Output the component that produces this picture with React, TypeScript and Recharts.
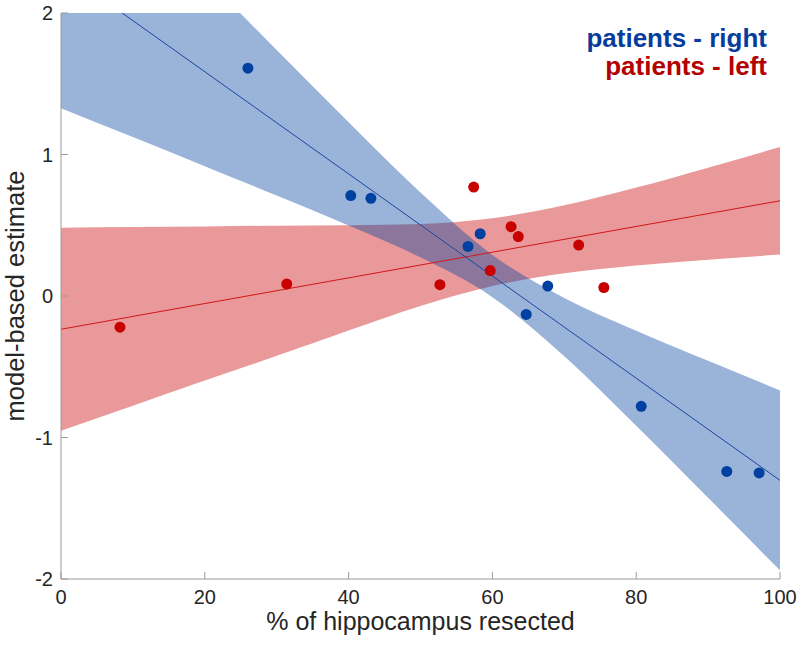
import { ComposedChart, Area, Line, Scatter, XAxis, YAxis } from "recharts";

// confidence bands, read at every 10 % step
const bandX = [0, 10, 20, 30, 40, 50, 60, 70, 80, 90, 100];
const rightLower = [1.327, 1.123, 0.917, 0.71, 0.498, 0.273, -0.008, -0.426, -0.917, -1.426, -1.939];
const rightUpper = [3.287, 2.769, 2.253, 1.738, 1.228, 0.731, 0.29, -0.014, -0.245, -0.458, -0.667];
const leftLower = [-0.953, -0.776, -0.598, -0.423, -0.244, -0.071, 0.07, 0.161, 0.216, 0.257, 0.293];
const leftUpper = [0.483, 0.488, 0.492, 0.497, 0.5, 0.509, 0.55, 0.641, 0.766, 0.907, 1.053];

// regression lines (end points)
const fitX = [0, 100];
const rightFit = [2.307, -1.303];
const leftFit = [-0.235, 0.673];

// patients
const rightX = [26.0, 40.3, 43.1, 56.6, 58.3, 64.7, 67.7, 80.7, 92.6, 97.1];
const rightY = [1.61, 0.71, 0.69, 0.35, 0.44, -0.13, 0.07, -0.78, -1.24, -1.25];
const leftX = [8.2, 31.4, 52.7, 57.4, 59.7, 62.6, 63.6, 72.0, 75.5];
const leftY = [-0.22, 0.085, 0.08, 0.77, 0.18, 0.49, 0.42, 0.36, 0.06];

const xTicks = [0, 20, 40, 60, 80, 100];
const yTicks = [-2, -1, 0, 1, 2];

const BLUE = "#0040a0";
const RED = "#c80000";
const FONT = "'Liberation Sans', Arial, Helvetica, sans-serif";
const AXIS = "#9a9a9a";

const rightBand = bandX.map((x, i) => ({ x, band: [rightLower[i], rightUpper[i]] }));
const leftBand = bandX.map((x, i) => ({ x, band: [leftLower[i], leftUpper[i]] }));
const rightLine = fitX.map((x, i) => ({ x, y: rightFit[i] }));
const leftLine = fitX.map((x, i) => ({ x, y: leftFit[i] }));
const rightPts = rightX.map((x, i) => ({ x, y: rightY[i] }));
const leftPts = leftX.map((x, i) => ({ x, y: leftY[i] }));

const dot = (color: string) => (props: any) => (
  <circle cx={props.cx} cy={props.cy} r={5.5} fill={color} />
);

const tickStyle = { fontSize: 20, fill: "#262626", fontFamily: FONT };

const YLabel = ({ viewBox }: any) => {
  const x = viewBox.x + 24;
  const y = viewBox.y + viewBox.height / 2;
  return (
    <text x={x} y={y} transform={`rotate(-90, ${x}, ${y})`} textAnchor="middle"
      fontSize={25.5} fill="#262626" fontFamily={FONT}>
      model-based estimate
    </text>
  );
};

export default function App() {
  return (
    <div style={{ position: "absolute", left: 0, top: 0, width: 800, height: 645, background: "#fff" }}>
      <ComposedChart width={800} height={645} margin={{ top: 13, right: 20, bottom: 0, left: 0 }}>
        <XAxis
          dataKey="x"
          type="number"
          domain={[0, 100]}
          ticks={xTicks}
          allowDataOverflow
          stroke={AXIS}
          tickSize={-7}
          tickMargin={18}
          tick={tickStyle}
          height={66}
          label={{ value: "% of hippocampus resected", position: "insideBottom", offset: 15, fontSize: 25, fill: "#262626", fontFamily: FONT }}
        />
        <YAxis
          type="number"
          domain={[-2, 2]}
          ticks={yTicks}
          allowDataOverflow
          stroke={AXIS}
          tickSize={-7}
          tickMargin={15}
          tick={tickStyle}
          width={61}
          label={<YLabel />}
        />
        <Area data={leftBand} dataKey="band" type="monotone" stroke="none" fill={RED} fillOpacity={0.4} isAnimationActive={false} />
        <Area data={rightBand} dataKey="band" type="monotone" stroke="none" fill={BLUE} fillOpacity={0.4} isAnimationActive={false} />
        <Line data={leftLine} dataKey="y" type="linear" stroke="#d01818" strokeWidth={1} dot={false} isAnimationActive={false} />
        <Line data={rightLine} dataKey="y" type="linear" stroke="#1a48a0" strokeWidth={1} dot={false} isAnimationActive={false} />
        <Scatter data={leftPts} dataKey="y" shape={dot(RED)} isAnimationActive={false} />
        <Scatter data={rightPts} dataKey="y" shape={dot(BLUE)} isAnimationActive={false} />
      </ComposedChart>
      <div style={{ position: "absolute", right: 33, top: 24, textAlign: "right", fontFamily: FONT, fontWeight: "bold", fontSize: 26, lineHeight: "28px" }}>
        <div style={{ color: "#063d9d" }}>patients - right</div>
        <div style={{ color: "#b30000" }}>patients - left</div>
      </div>
    </div>
  );
}
